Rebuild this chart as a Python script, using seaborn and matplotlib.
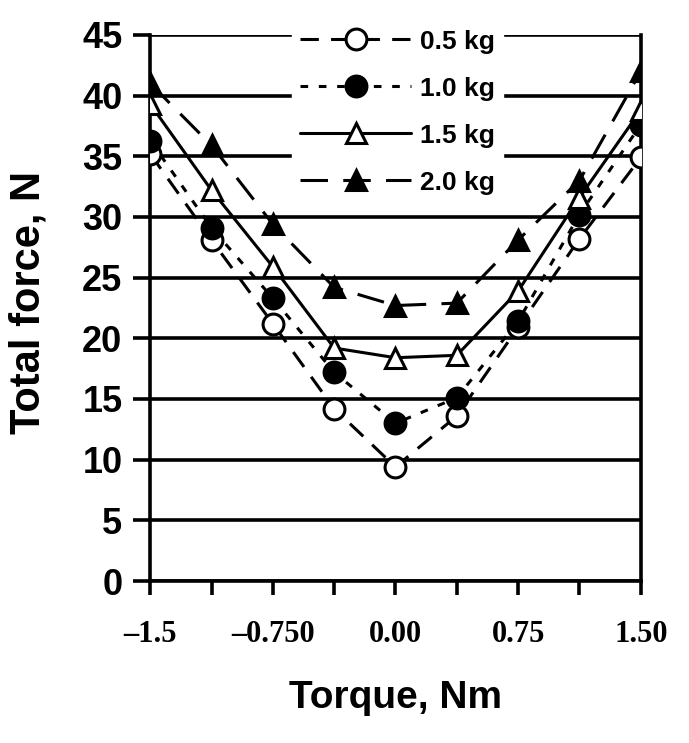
import matplotlib.pyplot as plt
import seaborn as sns
import pandas as pd
from matplotlib.lines import Line2D

sns.set_theme(style="white")
plt.rcParams["font.family"] = ["Liberation Sans", "DejaVu Sans"]
plt.rcParams["text.color"] = "black"
plt.rcParams["axes.labelcolor"] = "black"
plt.rcParams["xtick.color"] = "black"
plt.rcParams["ytick.color"] = "black"

# data
torque = [-1.5, -1.125, -0.75, -0.375, 0.0, 0.375, 0.75, 1.125, 1.5]
force_05 = [35.2, 28.1, 21.2, 14.2, 9.4, 13.6, 20.9, 28.2, 34.9]
force_10 = [36.3, 29.1, 23.3, 17.2, 13.0, 15.1, 21.4, 30.2, 37.6]
force_15 = [39.3, 32.2, 25.9, 19.2, 18.4, 18.6, 23.9, 31.6, 38.8]
force_20 = [41.0, 35.9, 29.4, 24.2, 22.7, 22.9, 28.1, 33.0, 42.0]
labels = ["0.5 kg", "1.0 kg", "1.5 kg", "2.0 kg"]
xtick_pos = [-1.5, -0.75, 0.0, 0.75, 1.5]
xtick_lab = ["\u20131.5", "\u20130.750", "0.00", "0.75", "1.50"]

rows = []
for lab, vals in zip(labels, [force_05, force_10, force_15, force_20]):
    for t, f in zip(torque, vals):
        rows.append({"torque": t, "force": f, "mass": lab})
df = pd.DataFrame(rows)

# style per series
stil = {
    "0.5 kg": dict(marker="o", mfc="white", dashes=(6, 4)),
    "1.0 kg": dict(marker="o", mfc="black", dashes=(2.5, 3.5)),
    "1.5 kg": dict(marker="^", mfc="white", dashes=None),
    "2.0 kg": dict(marker="^", mfc="black", dashes=(9, 5)),
}

fig = plt.figure(figsize=(6.89, 7.43), dpi=100)
ax = fig.add_axes([0.218, 0.218, 0.712, 0.735])

# grid lines
for y in range(0, 50, 5):
    ax.axhline(y, color="black", lw=2.6, zorder=1)

handles = []
for lab in labels:
    s = stil[lab]
    sub = df[df["mass"] == lab]
    sns.lineplot(data=sub, x="torque", y="force", ax=ax, color="black",
                 lw=2.2, marker=s["marker"], markersize=15,
                 markerfacecolor=s["mfc"], markeredgecolor="black",
                 markeredgewidth=2.2, zorder=3)
    ln = ax.lines[-1]
    if s["dashes"] is not None:
        ln.set_dashes(s["dashes"])
    h = Line2D([], [], color="black", lw=2.2, marker=s["marker"], markersize=15,
               markerfacecolor=s["mfc"], markeredgecolor="black",
               markeredgewidth=2.2)
    if s["dashes"] is not None:
        h.set_dashes(s["dashes"])
    handles.append(h)

ax.set_xlim(-1.5, 1.5)
ax.set_ylim(0, 45)
ax.set_yticks(range(0, 50, 5))
ax.set_xticks(torque)
ax.set_xticklabels(["" for _ in torque])
for x, t in zip(xtick_pos, xtick_lab):
    ax.text(x, -3.2, t, ha="center", va="top", fontsize=22,
            fontweight="bold", family="Liberation Serif")

ax.tick_params(axis="y", direction="out", length=12, width=2.6,
               labelsize=26, pad=8, left=True)
ax.tick_params(axis="x", direction="out", length=10, width=2.6,
               bottom=True)
for lbl in ax.get_yticklabels():
    lbl.set_fontweight("bold")

for side in ["left", "bottom", "right"]:
    ax.spines[side].set_linewidth(2.6)
    ax.spines[side].set_color("black")
ax.spines["top"].set_visible(False)

ax.set_xlabel("Torque, Nm", fontsize=28, fontweight="bold", labelpad=58)
ax.set_ylabel("Total force, N", fontsize=30, fontweight="bold")
ax.yaxis.set_label_coords(-0.208, 0.51)

leg = ax.legend(handles, labels, loc="upper left",
                bbox_to_anchor=(0.29, 1.024), borderaxespad=0,
                frameon=True, fancybox=False,
                framealpha=1, edgecolor="white", handlelength=4.2,
                handletextpad=0.35, labelspacing=0.87, borderpad=0.3,
                prop={"size": 19, "weight": "bold"})
leg.set_zorder(2)

plt.savefig("out.png", dpi=100)
